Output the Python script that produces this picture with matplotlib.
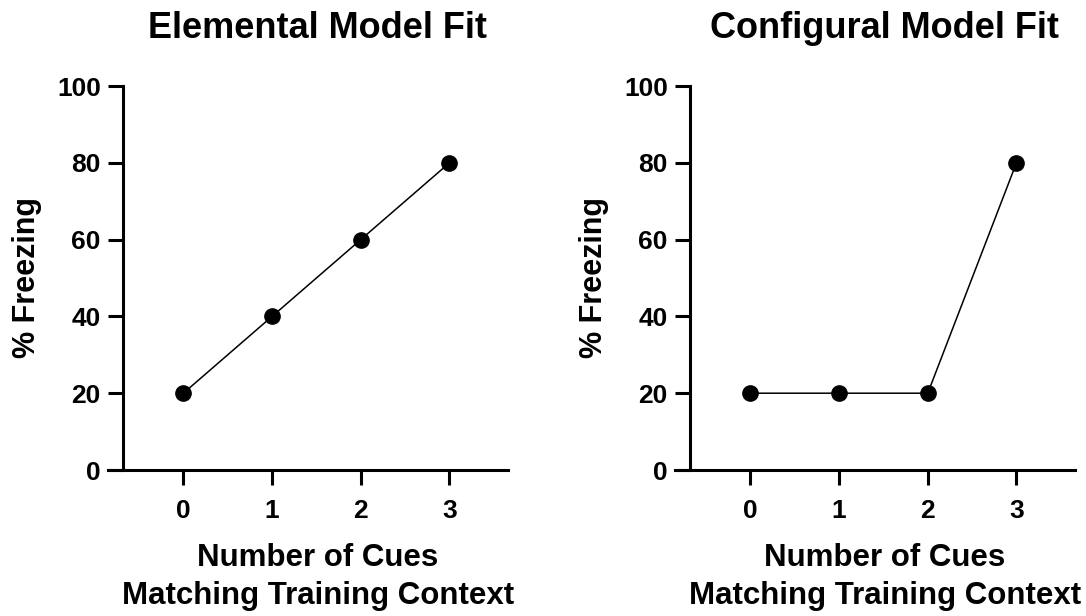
import matplotlib.pyplot as plt

plt.rcParams['font.family'] = ['Liberation Sans', 'DejaVu Sans']
plt.rcParams['font.weight'] = 'bold'

cues = [0, 1, 2, 3]
elemental = [20, 40, 60, 80]
configural = [20, 20, 20, 80]
titles = ["Elemental Model Fit", "Configural Model Fit"]
y_ticks = [0, 20, 40, 60, 80, 100]

fig = plt.figure(figsize=(10.86, 6.16), dpi=100)
lefts = [108 / 1086, 675 / 1086]

for left, values, title in zip(lefts, [elemental, configural], titles):
    ax = fig.add_axes([left, 1 - 470 / 616, 400 / 1086, 384 / 616])
    ax.plot(cues, values, color='black', lw=1.1, marker='o', ms=11, clip_on=False)
    ax.set_xlim(-0.85, 3.66)
    ax.set_ylim(0, 100)
    ax.spines['left'].set_position(('data', -0.68))
    ax.spines['right'].set_visible(False)
    ax.spines['top'].set_visible(False)
    for s in ('left', 'bottom'):
        ax.spines[s].set_linewidth(2.2)
    ax.set_xticks(cues)
    ax.set_yticks(y_ticks)
    ax.tick_params(length=11, width=2.2, labelsize=19, pad=5)
    ax.tick_params(axis='x', pad=10)
    for lab in ax.get_xticklabels() + ax.get_yticklabels():
        lab.set_fontweight('bold')
    ax.set_ylabel("% Freezing", fontsize=22, fontweight='bold')
    ax.yaxis.set_label_coords(-0.165, 0.5, transform=ax.transAxes)
    ax.set_xlabel("Number of Cues\nMatching Training Context", fontsize=22.5,
                  fontweight='bold', linespacing=1.35)
    ax.xaxis.set_label_coords(0.525, -0.19, transform=ax.transAxes)
    ax.xaxis.label.set_va('top')
    ax.text(0.525, 1.125, title, transform=ax.transAxes, ha='center', va='baseline',
            fontsize=26, fontweight='bold')

fig.savefig("out.png", dpi=100)
